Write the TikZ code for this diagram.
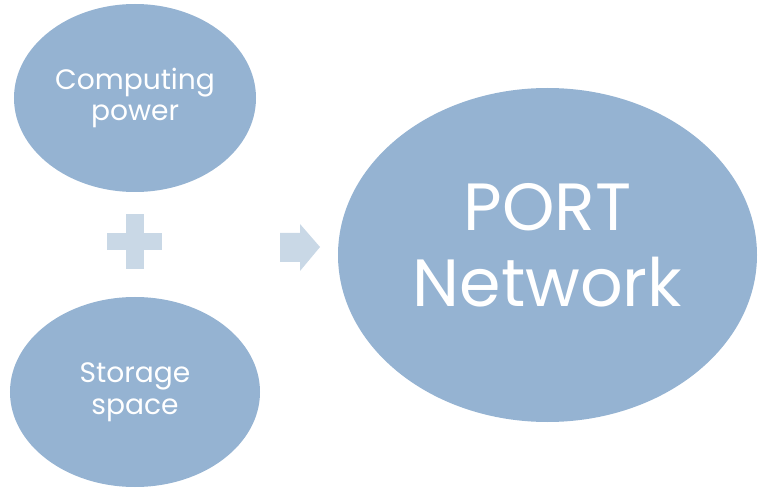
\documentclass[tikz,border=0pt]{standalone}
\usepackage{fontspec}
\setmainfont{Poppins}
\usetikzlibrary{shapes.geometric}
\definecolor{bubblefill}{HTML}{95B3D2}
\definecolor{signfill}{HTML}{C9D8E6}
\tikzset{
  bubble/.style={ellipse, fill=bubblefill, text=white, align=center, inner sep=0pt},
  sign/.style={fill=signfill}
}
\begin{document}
\begin{tikzpicture}
    \useasboundingbox (0,0) rectangle (15.26,-9.76);
    % the three bubbles
    \node[bubble, minimum width=4.84cm, minimum height=3.76cm,
          font=\fontsize{16}{18}\selectfont] (compute) at (2.70,-1.96) {Computing\\power};
    \node[bubble, minimum width=5.0cm, minimum height=3.8cm,
          font=\fontsize{16}{18}\selectfont] (storage) at (2.70,-7.84) {Storage\\space};
    \node[bubble, minimum width=8.38cm, minimum height=6.68cm] (port) at (10.95,-5.10) {};
    \node[text=white, align=center, font=\fontsize{38}{43}\selectfont]
        (porttext) at ([yshift=0.2cm]port.center) {PORT\\Network};
    % plus sign
    \fill[sign] (2.52,-4.28) rectangle (2.88,-5.38);
    \fill[sign] (2.14,-4.66) rectangle (3.24,-5.00);
    % block arrow
    \fill[sign] (5.60,-4.66) -- (6.00,-4.66) -- (6.00,-4.48) -- (6.40,-4.94)
        -- (6.00,-5.42) -- (6.00,-5.24) -- (5.60,-5.24) -- cycle;
\end{tikzpicture}
\end{document}
